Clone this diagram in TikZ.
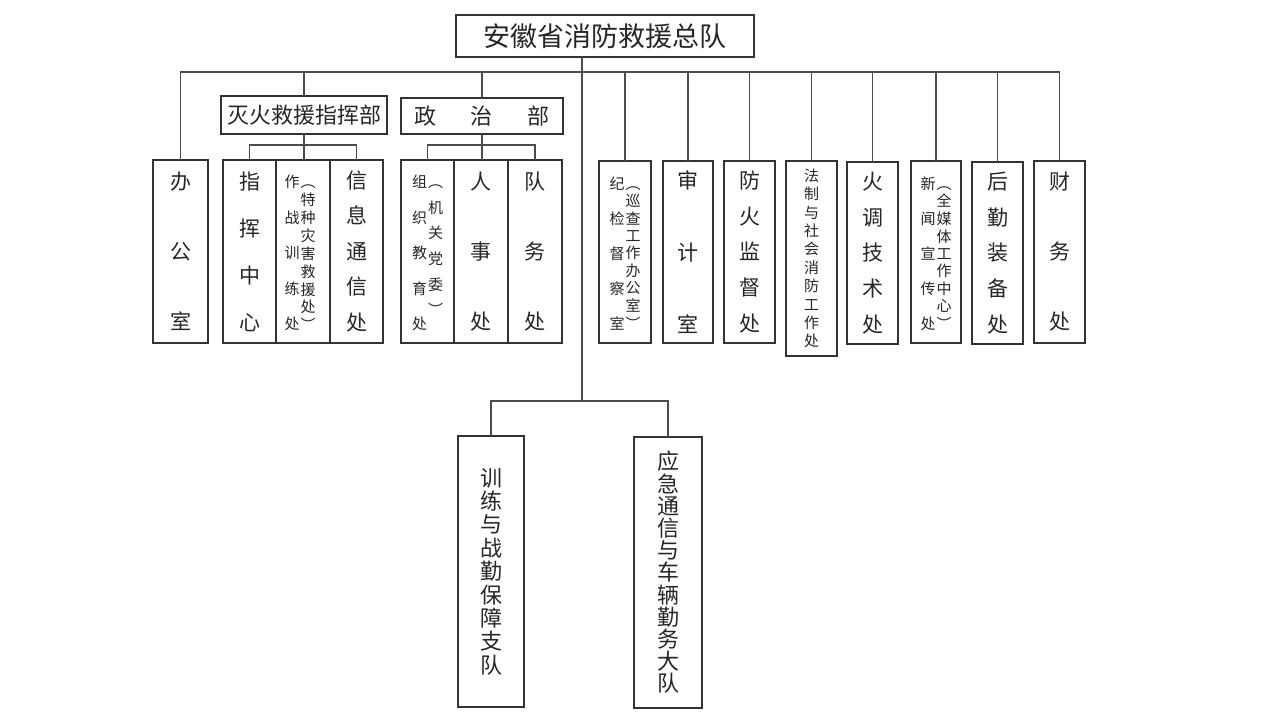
\documentclass[tikz,border=0pt]{standalone}
\usepackage{fontspec}
\setmainfont{Noto Sans CJK SC}
\usetikzlibrary{positioning}
\tikzset{
  box/.style={draw=black!80, line width=1.2pt, inner sep=0pt, outer sep=0pt,
    align=center, anchor=north west, text=black!85},
  link/.style={draw=black!70, line width=1.3pt},
}
% one column of stacked characters: size, pitch, characters
\newcommand\vcol[3]{{\fontsize{#1}{#2}\selectfont\begin{tabular}[t]{@{}c@{}}#3\end{tabular}}}

\begin{document}
\begin{tikzpicture}[x=1pt, y=-1pt]
  \useasboundingbox (0,0) rectangle (1277,717);

  \node[box, minimum width=298pt, minimum height=42pt, font=\fontsize{27}{27}\selectfont] (zd) at (456,15) {安徽省消防救援总队};

  \node[box, minimum width=55pt, minimum height=183pt, font=\fontsize{21}{70}\selectfont] (bgs) at (153,160) {办\\公\\室};

  \node[box, minimum width=166pt, minimum height=38pt, font=\fontsize{22}{22}\selectfont] (mhb) at (221,96) {灭火救援指挥部};
  \node[box, minimum width=53pt, minimum height=183pt, font=\fontsize{21}{47}\selectfont] (zhzx) at (223,160) {指\\挥\\中\\心};
  \node[box, minimum width=54pt, minimum height=183pt, right=0pt of zhzx] (zzxl)
    {\vcol{15}{35.5}{作\\战\\训\\练\\处}\hspace{1pt}\vcol{15}{17.6}{︵\\特\\种\\灾\\害\\救\\援\\处\\︶}\hspace{6pt}};
  \node[box, minimum width=53pt, minimum height=183pt, right=0pt of zzxl, font=\fontsize{21}{35.5}\selectfont] (xxtx) {信\\息\\通\\信\\处};

  \node[box, minimum width=162pt, minimum height=36pt, font=\fontsize{22}{22}\selectfont] (zzb) at (401,98) {政\hspace{35pt}治\hspace{35pt}部};
  \node[box, minimum width=53pt, minimum height=183pt] (zzjy) at (401,160)
    {\vcol{15}{35.5}{组\\织\\教\\育\\处}\hspace{1pt}\vcol{15}{25.6}{︵\\机\\关\\党\\委\\︶}};
  \node[box, minimum width=54pt, minimum height=183pt, right=0pt of zzjy, font=\fontsize{21}{70}\selectfont] (rsc) {人\\事\\处};
  \node[box, minimum width=54pt, minimum height=183pt, right=0pt of rsc, font=\fontsize{21}{70}\selectfont] (dwc) {队\\务\\处};

  \node[box, minimum width=52pt, minimum height=182pt] (jjjc) at (599,161)
    {\vcol{15}{35}{纪\\检\\督\\察\\室}\hspace{1pt}\vcol{15}{16.9}{︵\\巡\\查\\工\\作\\办\\公\\室\\︶}};
  \node[box, minimum width=50pt, minimum height=182pt, font=\fontsize{21}{72}\selectfont] (sjs) at (663,161) {审\\计\\室};
  \node[box, minimum width=51pt, minimum height=182pt, font=\fontsize{21}{35.7}\selectfont] (fhjd) at (724,161) {防\\火\\监\\督\\处};
  \node[box, minimum width=51pt, minimum height=195pt, font=\fontsize{15}{18.4}\selectfont] (fzsh) at (786,161) {法\\制\\与\\社\\会\\消\\防\\工\\作\\处};
  \node[box, minimum width=51pt, minimum height=182pt, font=\fontsize{21}{35.7}\selectfont] (hdjs) at (847,162) {火\\调\\技\\术\\处};
  \node[box, minimum width=50pt, minimum height=182pt] (xwxc) at (911,161)
    {\vcol{15}{35}{新\\闻\\宣\\传\\处}\hspace{1pt}\vcol{15}{17}{︵\\全\\媒\\体\\工\\作\\中\\心\\︶}};
  \node[box, minimum width=51pt, minimum height=182pt, font=\fontsize{21}{35.7}\selectfont] (hqzb) at (972,162) {后\\勤\\装\\备\\处};
  \node[box, minimum width=51pt, minimum height=182pt, font=\fontsize{21}{70}\selectfont] (cwc) at (1034,161) {财\\务\\处};

  \node[box, minimum width=66pt, minimum height=271pt, font=\fontsize{22}{23.4}\selectfont] (xlzd) at (458,436) {训\\练\\与\\战\\勤\\保\\障\\支\\队};
  \node[box, minimum width=68pt, minimum height=271pt, font=\fontsize{22}{22.2}\selectfont] (yjdd) at (634,437) {应\\急\\通\\信\\与\\车\\辆\\勤\\务\\大\\队};

  % connectors
  \coordinate (bus) at (582,72);
  \coordinate (fork) at (582,401);
  \draw[link] (bgs.north) |- (bus) -| (cwc.north);
  \draw[link] (fork |- zd.south) -- (fork);
  \draw[link] (xlzd.north) |- (fork) -| (yjdd.north);
  \foreach \n in {mhb, zzb, jjjc, sjs, fhjd, fzsh, hdjs, xwxc, hqzb}
    \draw[link] (\n.north) -- (\n.north |- bus);

  \draw[link] (mhb.south) -- (mhb.south |- zzxl.north);
  \draw[link] (zhzx.north) -- ++(0,-15) -| (xxtx.north);
  \draw[link] (zzb.south) -- (zzb.south |- rsc.north);
  \draw[link] (zzjy.north) -- ++(0,-15) -| (dwc.north);
\end{tikzpicture}
\end{document}
